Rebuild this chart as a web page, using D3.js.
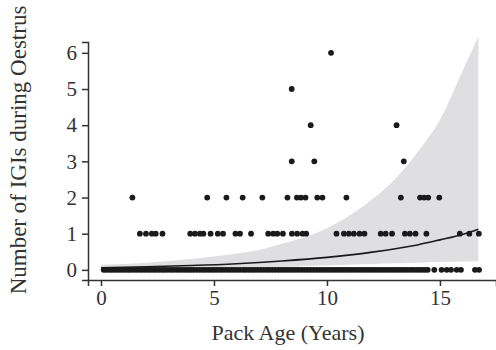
<!DOCTYPE html>
<html>
<head>
<meta charset="utf-8">
<script src="https://cdn.jsdelivr.net/npm/d3@7"></script>
<style>
  body { margin: 0; background: #fff; }
  svg text { font-family: "Liberation Serif", "DejaVu Serif", serif; fill: #333; }
</style>
</head>
<body>
<svg id="chart" width="496" height="350"></svg>
<script>
// observed IGI counts by pack age (years), one array per count level
const ages0 = [0.12,0.22,0.35,0.46,0.58,0.7,0.83,0.95,1.08,1.2,1.31,1.45,1.57,1.7,1.82,1.95,2.08,2.2,2.33,2.45,
  2.58,2.71,2.83,2.96,3.1,3.22,3.35,3.47,3.6,3.73,3.86,3.98,4.1,4.24,4.37,4.5,4.62,4.75,4.88,5.0,5.13,5.26,5.38,
  5.52,5.65,5.78,5.9,6.03,6.16,6.3,6.42,6.55,6.68,6.8,6.93,7.06,7.2,7.33,7.45,7.58,7.71,7.85,7.97,8.1,8.23,8.36,
  8.49,8.62,8.75,8.88,9.01,9.14,9.27,9.4,9.53,9.66,9.79,9.92,10.05,10.18,10.31,10.44,10.57,10.7,10.83,10.96,11.09,
  11.22,11.35,11.48,11.61,11.74,11.87,12.0,12.13,12.26,12.39,12.52,12.65,12.78,12.91,13.04,13.17,13.3,13.43,13.56,
  13.69,13.82,13.95,14.08,14.21,14.34,14.46,14.75,15.07,15.3,15.49,15.74,15.93,16.55,16.73];
const ages1 = [1.72,1.99,2.25,2.42,2.72,3.95,4.16,4.38,4.53,4.85,5.17,5.4,5.95,6.15,6.64,7.4,7.62,7.8,8.05,8.45,
  8.68,8.92,9.08,10.42,10.75,10.97,11.19,11.44,11.66,12.38,12.6,12.88,13.45,13.67,13.92,14.4,15.88,16.3,16.72];
const ages2 = [1.39,4.7,5.55,6.27,7.14,8.25,8.67,8.85,9.05,9.57,9.8,10.86,13.27,14.12,14.3,14.48,14.97];
const ages3 = [8.44,9.44,13.4];
const ages4 = [9.28,13.08];
const ages5 = [8.44];
const ages6 = [10.18];

// fitted curve and confidence band
const fitAge = [0, 2, 4, 6, 8, 10, 12, 14, 15, 16, 16.7];
const fitMean = [0.06, 0.085, 0.12, 0.17, 0.245, 0.345, 0.49, 0.69, 0.83, 0.98, 1.12];
const bandAge = [0, 2, 4, 5, 6, 7, 8, 9, 10, 11, 12, 13, 13.5, 14, 15, 16, 16.7];
const bandLow = [0.02, 0.03, 0.04, 0.05, 0.06, 0.07, 0.08, 0.1, 0.12, 0.14, 0.16, 0.18, 0.19, 0.2, 0.22, 0.23, 0.24];
const bandHigh = [0.14, 0.2, 0.3, 0.37, 0.45, 0.55, 0.72, 0.9, 1.15, 1.5, 1.95, 2.5, 2.85, 3.25, 4.15, 5.5, 6.45];

const xTicks = [0, 5, 10, 15];
const yTicks = [0, 1, 2, 3, 4, 5, 6];

const svg = d3.select("#chart");
const x = d3.scaleLinear().domain([-0.575, 17.48]).range([88, 496]);
const y = d3.scaleLinear().domain([-0.28, 6.3]).range([280, 42]);

const band = bandAge.map((a, i) => ({ a, lo: bandLow[i], hi: bandHigh[i] }));
svg.append("path")
  .datum(band)
  .attr("fill", "#dfdfe1")
  .attr("d", d3.area().x(d => x(d.a)).y0(d => y(d.lo)).y1(d => y(d.hi)).curve(d3.curveMonotoneX));

const pts = [];
[ages0, ages1, ages2, ages3, ages4, ages5, ages6].forEach((arr, v) => arr.forEach(a => pts.push({ a, v })));
svg.append("g").selectAll("circle")
  .data(pts)
  .enter().append("circle")
  .attr("cx", d => x(d.a))
  .attr("cy", d => y(d.v))
  .attr("r", 2.9)
  .attr("fill", "#1a1a1a");

svg.append("path")
  .datum(fitAge.map((a, i) => ({ a, m: fitMean[i] })))
  .attr("fill", "none")
  .attr("stroke", "#1a1a1a")
  .attr("stroke-width", 1.6)
  .attr("d", d3.line().x(d => x(d.a)).y(d => y(d.m)).curve(d3.curveMonotoneX));

const gx = svg.append("g").attr("transform", "translate(0,280)")
  .call(d3.axisBottom(x).tickValues(xTicks).tickFormat(d3.format("d")).tickSizeOuter(0).tickSize(6).tickPadding(4));
const gy = svg.append("g").attr("transform", "translate(88,0)")
  .call(d3.axisLeft(y).tickValues(yTicks).tickFormat(d3.format("d")).tickSizeOuter(0).tickSize(6).tickPadding(5));
[gx, gy].forEach(g => {
  g.selectAll("path,line").attr("stroke", "#333").attr("stroke-width", 1.5);
  g.selectAll("text").attr("font-size", 21).attr("font-family", "Liberation Serif").attr("fill", "#333");
});

svg.append("text")
  .attr("x", 288).attr("y", 340)
  .attr("text-anchor", "middle")
  .attr("font-size", 22)
  .text("Pack Age (Years)");

svg.append("text")
  .attr("transform", "translate(26,150) rotate(-90)")
  .attr("text-anchor", "middle")
  .attr("font-size", 23)
  .text("Number of IGIs during Oestrus");
</script>
</body>
</html>
